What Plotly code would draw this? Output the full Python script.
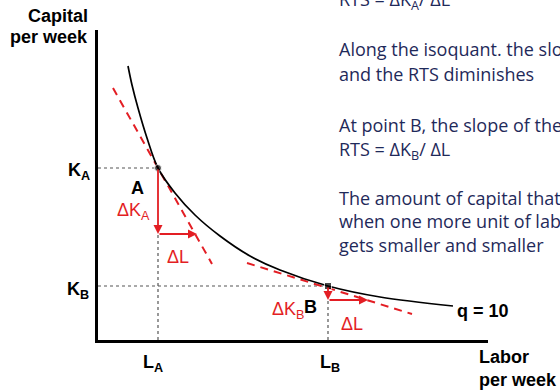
import plotly.graph_objects as go

# Isoquant q = 10 (labor vs. capital per week)
labor = [3.0, 3.4, 4.0, 4.9, 6.0, 7.7, 9.7, 12.2, 15.2, 18.2, 23.0, 28.2, 35.5]
capital = [27.4, 25.5, 23.2, 20.2, 17.2, 14.7, 12.5, 10.4, 8.4, 7.0, 5.4, 4.3, 3.4]

# Points A and B on the isoquant
point_names = ["A", "B"]
point_labor = [6.0, 23.0]
point_capital = [17.2, 5.4]

# Tangent (slope) lines through A and B
tangent_a_labor = [1.5, 11.4]
tangent_a_capital = [25.2, 7.6]
tangent_b_labor = [14.9, 31.4]
tangent_b_capital = [7.7, 2.6]

# Change in capital given up and one more unit of labor at each point
delta_k = [6.6, 1.4]
delta_l = [3.9, 4.0]

X_MAX, Y_MAX = 39, 31

RED = "#e31e24"
NAVY = "#1f2a5a"
BOLD = "Liberation Sans"
BODY = "Open Sans"

fig = go.Figure()

# dashed guides from the axes to A and B
for i in range(2):
    lx, ky = point_labor[i], point_capital[i]
    fig.add_trace(go.Scatter(x=[0, lx], y=[ky, ky], mode="lines",
                             line=dict(color="#555555", width=1.2, dash="3px,3px"),
                             hoverinfo="skip"))
    fig.add_trace(go.Scatter(x=[lx, lx], y=[0, ky - delta_k[i]], mode="lines",
                             line=dict(color="#555555", width=1.2, dash="3px,3px"),
                             hoverinfo="skip"))

# tangent lines
for tx, ty in [(tangent_a_labor, tangent_a_capital), (tangent_b_labor, tangent_b_capital)]:
    fig.add_trace(go.Scatter(x=tx, y=ty, mode="lines",
                             line=dict(color=RED, width=2, dash="8px,6px"),
                             hoverinfo="skip"))

# the isoquant
fig.add_trace(go.Scatter(x=labor, y=capital, mode="lines",
                         line=dict(color="black", width=1.7, shape="spline", smoothing=1.0),
                         hoverinfo="skip"))

# points A and B
fig.add_trace(go.Scatter(x=point_labor, y=point_capital, mode="markers",
                         marker=dict(color="black", size=[7, 7], symbol=["circle", "square"]),
                         hoverinfo="skip"))

annotations = []

# delta arrows
for i in range(2):
    lx, ky = point_labor[i], point_capital[i]
    k_end = ky - delta_k[i]
    annotations.append(dict(x=lx, y=k_end, ax=lx, ay=ky, xref="x", yref="y",
                            axref="x", ayref="y", text="", showarrow=True,
                            arrowhead=2, arrowsize=1, arrowwidth=1.8, arrowcolor=RED))
    annotations.append(dict(x=lx + delta_l[i], y=k_end, ax=lx, ay=k_end, xref="x", yref="y",
                            axref="x", ayref="y", text="", showarrow=True,
                            arrowhead=2, arrowsize=1, arrowwidth=1.8, arrowcolor=RED))


def label(x, y, text, color="black", family=BOLD, size=18, bold=True,
          xanchor="center", yanchor="middle"):
    # positions given in axis units, placed on paper so text outside the axes still shows
    t = f"<b>{text}</b>" if bold else text
    annotations.append(dict(x=x / X_MAX, y=y / Y_MAX, xref="paper", yref="paper",
                            text=t, showarrow=False,
                            xanchor=xanchor, yanchor=yanchor,
                            font=dict(family=family, size=size, color=color)))


# axis titles
label(-0.8, 32.4, "Capital", xanchor="right")
label(-0.8, 30.3, "per week", xanchor="right")
label(37.9, -1.7, "Labor", xanchor="left")
label(37.9, -4.0, "per week", xanchor="left")

# axis markers
label(-0.6, 16.9, "K<sub>A</sub>", xanchor="right")
label(-0.7, 5.0, "K<sub>B</sub>", xanchor="right")
label(point_labor[0] - 0.5, -2.3, "L<sub>A</sub>")
label(point_labor[1] + 0.2, -2.3, "L<sub>B</sub>")

# isoquant label
label(35.7, 2.9, "q = 10", xanchor="left")

# point labels
label(3.9, 15.2, point_names[0])
label(21.2, 3.3, point_names[1])

# delta labels
label(1.7, 12.9, "ΔK<sub>A</sub>", color=RED, bold=False, xanchor="left")
label(6.7, 8.3, "ΔL", color=RED, bold=False, xanchor="left")
label(20.8, 3.0, "ΔK<sub>B</sub>", color=RED, bold=False, xanchor="right")
label(24.1, 1.6, "ΔL", color=RED, bold=False, xanchor="left")

# explanatory text
notes = [
    (34.0, "RTS = ΔK<sub>A</sub>/ ΔL"),
    (29.1, "Along the isoquant. the slope decreases"),
    (26.6, "and the RTS diminishes"),
    (21.5, "At point B, the slope of the isoquant is flatter"),
    (19.0, "RTS = ΔK<sub>B</sub>/ ΔL"),
    (14.2, "The amount of capital that is given up"),
    (11.9, "when one more unit of labor is used"),
    (9.5, "gets smaller and smaller"),
]
for y, text in notes:
    label(23.9, y, text, color=NAVY, family=BODY, size=18, bold=False, xanchor="left")

axis_style = dict(showgrid=False, zeroline=False, showticklabels=False, ticks="",
                  showline=True, linecolor="black", linewidth=2.5, fixedrange=True)

fig.update_layout(
    width=560, height=390,
    margin=dict(l=98, r=72, t=30, b=50),
    paper_bgcolor="white", plot_bgcolor="white",
    showlegend=False,
    xaxis=dict(range=[0, X_MAX], **axis_style),
    yaxis=dict(range=[0, Y_MAX], **axis_style),
    annotations=annotations,
)

fig.write_html("out.html")
